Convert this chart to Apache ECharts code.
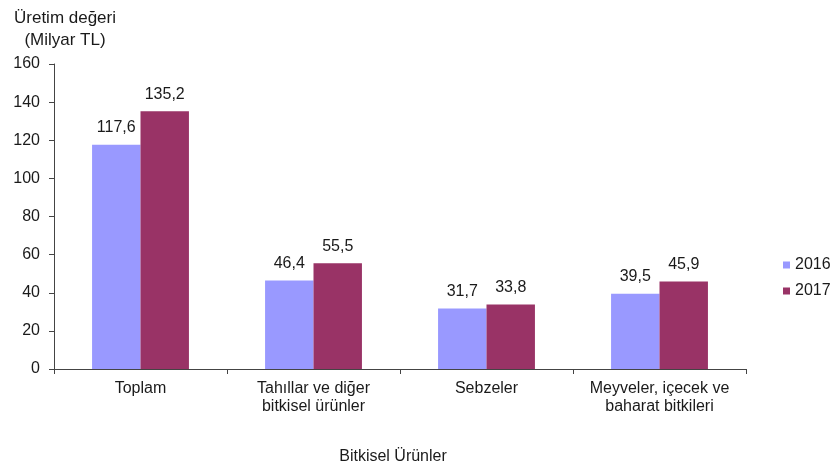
<!DOCTYPE html>
<html>
<head>
<meta charset="utf-8">
<script src="https://cdn.jsdelivr.net/npm/echarts@6/dist/echarts.min.js"></script>
<style>
  html, body { margin: 0; padding: 0; background: #fff; }
  #chart { width: 834px; height: 470px; }
</style>
</head>
<body>
<div id="chart"></div>
<script>
const categories = ['Toplam', 'Tahıllar ve diğer\nbitkisel ürünler', 'Sebzeler', 'Meyveler, içecek ve\nbaharat bitkileri']
const values2016 = [117.6, 46.4, 31.7, 39.5]
const values2017 = [135.2, 55.5, 33.8, 45.9]
const seriesNames = ['2016', '2017']

const font = 'Arial, "Liberation Sans", sans-serif'
const txt = '#1a1a1a'
const chart = echarts.init(document.getElementById('chart'))

const labelOpt = {
  show: true,
  position: 'top',
  distance: 9,
  color: txt,
  fontSize: 16,
  fontFamily: font,
  formatter: p => String(p.value).replace('.', ',')
}

chart.setOption({
  animation: false,
  textStyle: { fontFamily: font },
  title: {
    text: 'Üretim değeri\n(Milyar TL)',
    left: 60,
    top: 2,
    textAlign: 'center',
    textStyle: { fontSize: 17, fontWeight: 'normal', color: txt, lineHeight: 22, fontFamily: font }
  },
  legend: {
    orient: 'vertical',
    left: 783,
    top: 257,
    padding: 0,
    itemWidth: 7,
    itemHeight: 7,
    itemGap: 10,
    icon: 'rect',
    textStyle: { fontSize: 16, color: txt },
    data: seriesNames
  },
  grid: { left: 54, right: 88, top: 64, bottom: 99 },
  xAxis: {
    type: 'category',
    data: categories,
    name: 'Bitkisel Ürünler',
    nameLocation: 'middle',
    nameGap: 80,
    nameTextStyle: { fontSize: 16, color: txt, padding: [0, 14, 0, 0] },
    axisLine: { lineStyle: { color: '#444' } },
    axisTick: { show: true, length: 5, lineStyle: { color: '#444' } },
    axisLabel: { interval: 0, fontSize: 16, color: txt, margin: 11, lineHeight: 18 }
  },
  yAxis: {
    type: 'value',
    min: 0,
    max: 160,
    interval: 20,
    axisLine: { show: true, lineStyle: { color: '#444' } },
    axisTick: { show: true, length: 5, lineStyle: { color: '#444' } },
    axisLabel: { fontSize: 16, color: txt, margin: 14 },
    splitLine: { show: false }
  },
  series: [
    {
      name: seriesNames[0],
      type: 'bar',
      data: values2016,
      barGap: '0%',
      barCategoryGap: '44%',
      itemStyle: { color: '#9999FF' },
      label: labelOpt
    },
    {
      name: seriesNames[1],
      type: 'bar',
      data: values2017,
      itemStyle: { color: '#993366' },
      label: labelOpt
    }
  ]
})
</script>
</body>
</html>
